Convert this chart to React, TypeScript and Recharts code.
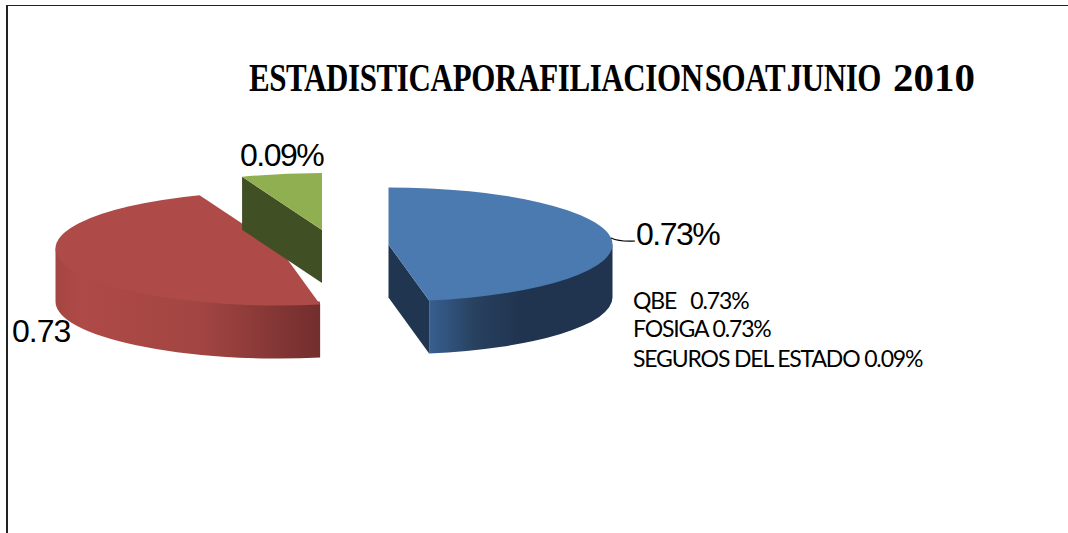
import { PieChart, Pie } from "recharts"

const categories = ["QBE", "FOSIGA", "SEGUROS DEL ESTADO"]
const values = [0.73, 0.73, 0.09]
const sliceLabels = ["0.73%", "0.73", "0.09%"]
const legendLines = ["QBE   0.73%", "FOSIGA 0.73%", "SEGUROS DEL ESTADO 0.09%"]

const data = categories.map((name, i) => ({ name, value: values[i] }))

const CX = 300
const CY = 240
const RADIUS = 224
const SQUASH = 0.2545
const DEPTH = 53

// exploded offset, colours per slice
const sliceStyles = [
  { dx: 88.5, dy: 4.5, top: "#4A7AB0", cut: "#1F3550", rim: [["0%", "#385F90"], ["25%", "#27415F"], ["50%", "#20344F"], ["100%", "#20344F"]] },
  { dx: -20.5, dy: 8.5, top: "#AE4A47", cut: "#7A302E", rim: [["0%", "#A54643"], ["10%", "#AE4A47"], ["55%", "#A24542"], ["100%", "#722E2D"]] },
  { dx: 22, dy: -10, top: "#90AF50", cut: "#414F24", rim: [["0%", "#414F24"], ["100%", "#414F24"]] },
]

const labelStyles = [
  { x: 636, y: 245, spacing: -1.5 },
  { x: 12, y: 342, spacing: -1 },
  { x: 240, y: 166, spacing: -1.5 },
]

const rad = (a: number) => (a * Math.PI) / 180

function Slice3D(props: any) {
  const { index, startAngle, endAngle, outerRadius } = props
  const st = sliceStyles[index]
  const cx = CX + st.dx
  const cy = CY + st.dy
  const rx = outerRadius
  const ry = outerRadius * SQUASH
  const px = (a: number, r = rx) => cx + r * Math.cos(rad(a))
  const py = (a: number, r = ry) => cy - r * Math.sin(rad(a))
  const large = startAngle - endAngle > 180 ? 1 : 0

  const topPath = `M${cx},${cy} L${px(startAngle)},${py(startAngle)} A${rx},${ry} 0 ${large} 1 ${px(endAngle)},${py(endAngle)} Z`

  // only the front half of the rim shows; its upper edge tucks under the top face
  const s = Math.min(startAngle, 0)
  const e = Math.max(endAngle, -180)
  const showRim = s > e
  const ix = rx - 3
  const iy = ry - 3
  const rimPath = `M${px(s, ix)},${py(s, iy)} A${ix},${iy} 0 0 1 ${px(e, ix)},${py(e, iy)} L${px(e)},${py(e)} L${px(e)},${py(e) + DEPTH} A${rx},${ry} 0 0 0 ${px(s)},${py(s) + DEPTH} L${px(s)},${py(s)} Z`

  const cutFace = (a: number) =>
    `M${cx},${cy} L${px(a)},${py(a)} L${px(a)},${py(a) + DEPTH} L${cx},${cy + DEPTH} Z`
  const showStart = Math.cos(rad(startAngle)) < -0.001
  const showEnd = Math.cos(rad(endAngle)) > 0.001

  const gradId = `rim-${index}`
  return (
    <g>
      <defs>
        <linearGradient id={gradId} gradientUnits="userSpaceOnUse" x1={Math.min(px(s), px(e))} x2={Math.max(px(s), px(e))} y1={0} y2={0}>
          {st.rim.map(([offset, color]) => (
            <stop key={offset} offset={offset} stopColor={color} />
          ))}
        </linearGradient>
      </defs>
      {showStart && <path d={cutFace(startAngle)} fill={st.cut} />}
      {showEnd && <path d={cutFace(endAngle)} fill={st.cut} />}
      {showRim && <path d={rimPath} fill={`url(#${gradId})`} />}
      <path d={topPath} fill={st.top} />
    </g>
  )
}

function SliceLabel(props: any) {
  const { index } = props
  const pos = labelStyles[index]
  return (
    <g>
      {index === 0 && <path d="M611,238 Q620,242 635,241" fill="none" stroke="#000" strokeWidth={1.2} />}
      <text x={pos.x} y={pos.y} fontFamily="Liberation Sans" fontSize={32} letterSpacing={pos.spacing} fill="#000">
        {sliceLabels[index]}
      </text>
    </g>
  )
}

export default function App() {
  return (
    <div style={{ position: "fixed", left: 0, top: 0, width: 1068, height: 533, background: "#fff", overflow: "hidden" }}>
      <div style={{ position: "absolute", left: 6, top: 5, width: 1062, height: 528, borderLeft: "2px solid #222", borderTop: "1px solid #222" }} />
      <PieChart width={1068} height={533} margin={{ top: 0, right: 0, bottom: 0, left: 0 }} style={{ position: "absolute", left: 0, top: 0 }}>
        <Pie
          data={data}
          dataKey="value"
          nameKey="name"
          cx={CX}
          cy={CY}
          outerRadius={RADIUS}
          startAngle={90}
          endAngle={-270}
          stroke="none"
          labelLine={false}
          label={SliceLabel}
          shape={Slice3D}
          isAnimationActive={false}
        />
        <text
          transform="translate(249,91) scale(0.755,1)"
          fontFamily="Liberation Serif"
          fontWeight="bold"
          fontSize={41}
          letterSpacing={-0.5}
          wordSpacing={-7}
          fill="#000"
        >
          ESTADISTICA POR AFILIACION SOAT JUNIO
        </text>
        <text x={893} y={91} fontFamily="Liberation Serif" fontWeight="bold" fontSize={41} fill="#000">
          2010
        </text>
        {legendLines.map((line, i) => (
          <text key={line} x={633} y={[309, 337, 367][i]} fontFamily="Lato" fontSize={23} letterSpacing={-1.15} fill="#000" style={{ whiteSpace: "pre" }}>
            {line}
          </text>
        ))}
      </PieChart>
    </div>
  )
}
